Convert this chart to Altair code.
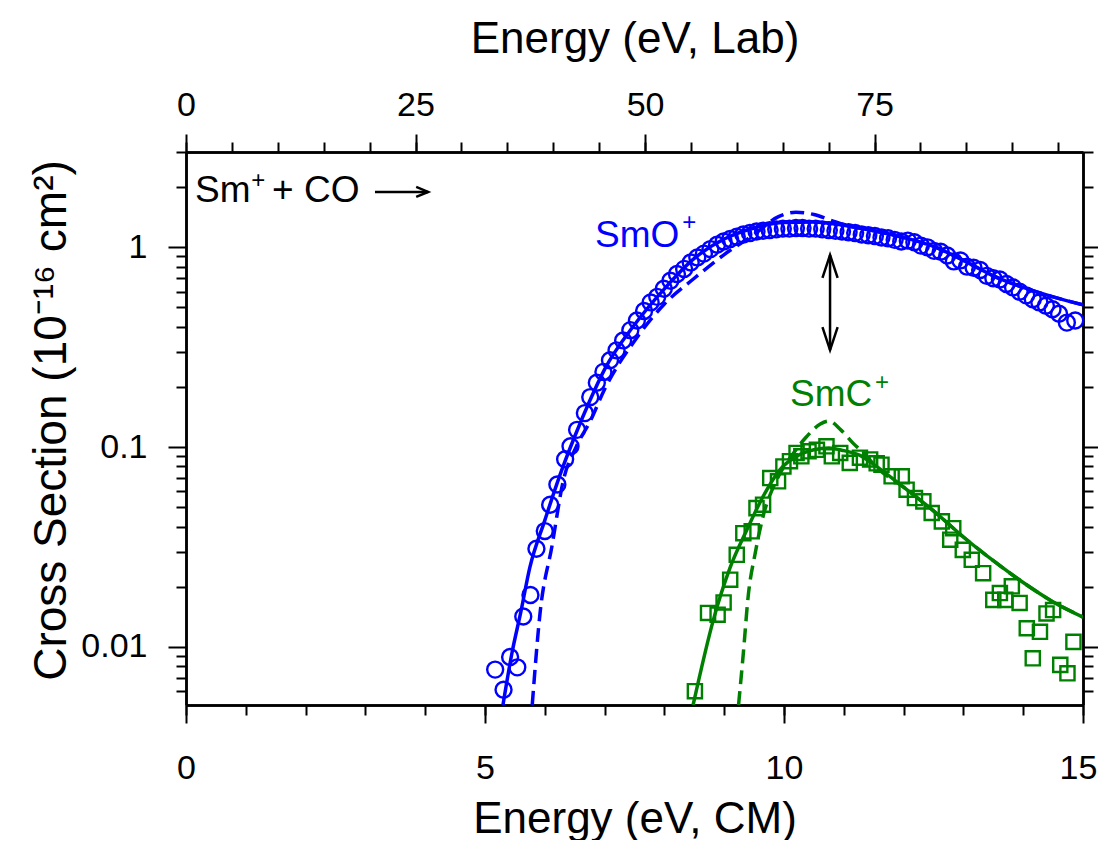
import altair as alt
import pandas as pd

FONT = "Liberation Sans"
BLUE = "#0000ff"
GREEN = "#008000"

# ---------------- data ----------------
smo_x = [5.17, 5.31, 5.42, 5.54, 5.64, 5.76, 5.86, 6.00, 6.09, 6.21, 6.34, 6.43, 6.54, 6.67,
         6.76, 6.87, 6.98, 7.09, 7.20, 7.31, 7.43, 7.54, 7.66, 7.77, 7.88, 7.99, 8.10, 8.21,
         8.33, 8.44, 8.55, 8.66, 8.77, 8.88, 8.99, 9.10, 9.21, 9.32, 9.43, 9.54, 9.65, 9.76,
         9.87, 9.98, 10.09, 10.20, 10.31, 10.42, 10.53, 10.64, 10.75, 10.86, 10.97, 11.08,
         11.19, 11.30, 11.41, 11.52, 11.63, 11.74, 11.85, 11.96, 12.07, 12.18, 12.29, 12.40,
         12.51, 12.62, 12.73, 12.84, 12.95, 13.06, 13.17, 13.28, 13.39, 13.50, 13.61, 13.72,
         13.83, 13.94, 14.05, 14.16, 14.27, 14.38, 14.49, 14.60, 14.73, 14.87]
smo_y = [0.0077, 0.0061, 0.0089, 0.0079, 0.0142, 0.0182, 0.031, 0.038, 0.0515, 0.065, 0.087,
         0.101, 0.122, 0.148, 0.178, 0.21, 0.238, 0.272, 0.305, 0.342, 0.385, 0.43, 0.48, 0.53,
         0.565, 0.62, 0.68, 0.735, 0.78, 0.84, 0.89, 0.93, 0.98, 1.03, 1.07, 1.10, 1.13, 1.16,
         1.18, 1.20, 1.21, 1.22, 1.23, 1.24, 1.24, 1.25, 1.25, 1.24, 1.24, 1.23, 1.22, 1.21,
         1.20, 1.19, 1.18, 1.16, 1.15, 1.14, 1.12, 1.11, 1.09, 1.07, 1.08, 1.06, 1.02, 1.00,
         0.96, 0.95, 0.91, 0.85, 0.86, 0.80, 0.79, 0.77, 0.72, 0.70, 0.69, 0.655, 0.63, 0.60,
         0.575, 0.55, 0.53, 0.51, 0.49, 0.465, 0.42, 0.43]

smo_fit_x = [5.30, 5.45, 5.60, 5.75, 6.00, 6.25, 6.50, 6.75, 7.00, 7.50, 8.00, 8.50, 9.00,
             9.50, 10.00, 10.50, 11.00, 11.50, 12.00, 12.50, 13.00, 13.50, 14.00, 14.50, 15.00]
smo_fit_y = [0.00512, 0.0093, 0.015, 0.025, 0.043, 0.072, 0.113, 0.17, 0.245, 0.41, 0.62,
             0.88, 1.10, 1.25, 1.33, 1.34, 1.29, 1.21, 1.12, 1.01, 0.86, 0.72, 0.63, 0.565, 0.515]

smo_dash_x = [5.79, 5.92, 6.12, 6.31, 6.53, 6.76, 7.00, 7.50, 8.00, 8.50, 9.00, 9.50, 9.90,
              10.20, 10.50, 10.80, 11.00, 11.50, 12.00, 12.50, 13.00, 13.50, 14.00, 14.50, 15.00]
smo_dash_y = [0.00512, 0.0147, 0.032, 0.068, 0.101, 0.135, 0.195, 0.34, 0.52, 0.70, 0.92, 1.16,
              1.42, 1.50, 1.46, 1.36, 1.30, 1.21, 1.12, 1.01, 0.86, 0.72, 0.63, 0.565, 0.515]

smc_x = [8.51, 8.73, 8.89, 8.99, 9.10, 9.21, 9.32, 9.46, 9.54, 9.65, 9.77, 9.90, 9.99, 10.10,
         10.21, 10.29, 10.41, 10.55, 10.71, 10.80, 10.94, 11.10, 11.27, 11.44, 11.55, 11.63,
         11.80, 11.97, 12.05, 12.19, 12.33, 12.47, 12.64, 12.78, 12.83, 12.99, 13.14, 13.33,
         13.50, 13.61, 13.70, 13.81, 13.94, 14.06, 14.16, 14.28, 14.39, 14.50, 14.62, 14.74, 14.84]
smc_y = [0.0060, 0.0148, 0.0145, 0.0167, 0.0217, 0.0289, 0.0371, 0.0379, 0.0495, 0.0515, 0.070,
         0.0674, 0.080, 0.085, 0.0935, 0.090, 0.0953, 0.097, 0.101, 0.090, 0.0935, 0.0834,
         0.0885, 0.0868, 0.083, 0.0817, 0.0714, 0.0714, 0.0612, 0.0556, 0.0535, 0.0468, 0.0425,
         0.0344, 0.0393, 0.0306, 0.0273, 0.0234, 0.0172, 0.0186, 0.0172, 0.0201, 0.0166, 0.0124,
         0.00877, 0.0119, 0.0147, 0.0153, 0.00813, 0.00738, 0.0106]

smc_fit_x = [8.48, 8.82, 9.10, 9.38, 9.65, 9.93, 10.21, 10.50, 10.75, 11.00, 11.27, 11.50,
             12.00, 12.50, 13.00, 13.50, 14.00, 14.50, 15.00]
smc_fit_y = [0.00512, 0.0137, 0.025, 0.0386, 0.0566, 0.077, 0.090, 0.097, 0.099, 0.096, 0.091,
             0.082, 0.063, 0.048, 0.0355, 0.027, 0.021, 0.0168, 0.0141]

smc_dash_x = [9.24, 9.32, 9.40, 9.52, 9.65, 9.88, 10.16, 10.38, 10.60, 10.75, 10.95, 11.15,
              11.40, 11.50, 12.00, 12.50, 13.00, 13.50, 14.00, 14.50, 15.00]
smc_dash_y = [0.00512, 0.0093, 0.0178, 0.0296, 0.045, 0.0687, 0.0935, 0.113, 0.130, 0.135,
              0.122, 0.105, 0.089, 0.082, 0.063, 0.048, 0.0355, 0.027, 0.021, 0.0168, 0.0141]

# axis ticks
cm_major = [0, 5, 10, 15]
cm_minor = list(range(0, 16))
lab_major = [0, 25, 50, 75]
lab_minor = list(range(0, 100, 5))
y_major = [0.01, 0.1, 1]
y_minor = [0.006, 0.007, 0.008, 0.009, 0.02, 0.03, 0.04, 0.05, 0.06, 0.07, 0.08, 0.09,
           0.2, 0.3, 0.4, 0.5, 0.6, 0.7, 0.8, 0.9, 2, 3]

# annotations
ann_text = ["Sm", "+ CO", "SmO", "SmC"]
ann_x = [0.15, 1.44, 6.84, 10.10]
ann_y = [1.687, 1.687, 1.005, 0.1607]
ann_col = ["black", "black", BLUE, GREEN]
sup_x = [1.09, 8.30, 11.52]
sup_y = [1.98, 1.22, 0.194]
sup_col = ["black", BLUE, GREEN]
arrow_x = [3.16, 10.77]
arrow_x2 = [4.05, 10.77]
arrow_y = [1.894, 0.916]
arrow_y2 = [1.894, 0.306]
head_x = [4.05, 10.77, 10.77]
head_y = [1.894, 0.916, 0.306]
head_shape = ["M-1,-0.42L0,0L-1,0.42", "M-0.33,1L0,0L0.33,1", "M-0.33,-1L0,0L0.33,-1"]
head_size = [576, 2116, 2116]

# ---------------- scales & axes ----------------
XSC = alt.Scale(domain=[0, 15], nice=False, zero=False)
LSC = alt.Scale(domain=[0, 97.7], nice=False, zero=False)
YSC = alt.Scale(type="log", domain=[0.00512, 3.0], nice=False)

common = dict(domainColor="black", domainWidth=2.5, tickColor="black", tickWidth=2,
              grid=False, labelFont=FONT, labelColor="black", titleFont=FONT,
              titleColor="black", titleFontWeight="normal")

ax_bottom_major = alt.Axis(orient="bottom", values=cm_major, tickSize=18, labelFontSize=34,
                           labelPadding=55, labelBaseline="alphabetic", format="d",
                           labelFlush=False, labelOverlap=False,
                           labelOffset=alt.ConditionalAxisNumber(
                               condition={"test": "datum.value == 15", "value": -5}, value=0),
                           title="Energy (eV, CM)", titleFontSize=44, titleY=127,
                           titleBaseline="alphabetic", **common)
ax_bottom_minor = alt.Axis(orient="bottom", values=cm_minor, tickSize=10, labels=False,
                           title="", **common)
ax_top_major = alt.Axis(orient="top", values=lab_major, tickSize=18, labelFontSize=34,
                        labelPadding=19, labelBaseline="alphabetic", format="d",
                        labelFlush=False, labelOverlap=False,
                        title="Energy (eV, Lab)", titleFontSize=44, titleY=-100,
                        titleBaseline="alphabetic", **common)
ax_top_minor = alt.Axis(orient="top", values=lab_minor, tickSize=10, labels=False,
                        title="", **common)
ax_left_major = alt.Axis(orient="left", values=y_major, tickSize=18, labelFontSize=34,
                         labelPadding=21, format="~g", labelOverlap=False,
                         title="Cross Section (10⁻¹⁶ cm²)", titleFontSize=46,
                         titleX=-121, titleY=268, titleAngle=270,
                         titleBaseline="alphabetic", **common)
ax_left_minor = alt.Axis(orient="left", values=y_minor, tickSize=10, labels=False,
                         title="", **common)
ax_right_major = alt.Axis(orient="right", values=y_major, tickSize=18, labels=False,
                          title="", **common)
ax_right_minor = alt.Axis(orient="right", values=y_minor, tickSize=10, labels=False,
                          title="", **common)


def xy(xaxis=None, yaxis=None, xf="x:Q", xs=XSC):
    return dict(x=alt.X(xf, scale=xs, axis=xaxis), y=alt.Y("y:Q", scale=YSC, axis=yaxis))


def df(xs, ys):
    return pd.DataFrame({"x": xs, "y": ys})


smo_pts = alt.Chart(df(smo_x, smo_y)).mark_point(
    shape="circle", filled=False, size=255, strokeWidth=2.4, color=BLUE, opacity=1
).encode(**xy(ax_bottom_major, ax_left_major))

smc_pts = alt.Chart(df(smc_x, smc_y)).mark_point(
    shape="square", filled=False, size=200, strokeWidth=2.4, color=GREEN, opacity=1
).encode(**xy(ax_bottom_minor, ax_left_minor))

smo_fit = alt.Chart(df(smo_fit_x, smo_fit_y)).mark_line(
    color=BLUE, strokeWidth=3.5, clip=True, interpolate="monotone").encode(**xy())
smo_dash = alt.Chart(df(smo_dash_x, smo_dash_y)).mark_line(
    color=BLUE, strokeWidth=3.5, strokeDash=[14, 7], clip=True, interpolate="monotone").encode(**xy())
smc_fit = alt.Chart(df(smc_fit_x, smc_fit_y)).mark_line(
    color=GREEN, strokeWidth=3.5, clip=True, interpolate="monotone").encode(**xy())
smc_dash = alt.Chart(df(smc_dash_x, smc_dash_y)).mark_line(
    color=GREEN, strokeWidth=3.5, strokeDash=[14, 7], clip=True, interpolate="monotone").encode(**xy())

top_major = alt.Chart(pd.DataFrame({"lab": lab_major, "y": [1] * len(lab_major)})).mark_point(
    opacity=0).encode(**xy(ax_top_major, ax_right_major, xf="lab:Q", xs=LSC))
top_minor = alt.Chart(pd.DataFrame({"lab": lab_minor, "y": [1] * len(lab_minor)})).mark_point(
    opacity=0).encode(**xy(ax_top_minor, ax_right_minor, xf="lab:Q", xs=LSC))

texts = alt.Chart(pd.DataFrame({"x": ann_x, "y": ann_y, "t": ann_text, "c": ann_col})).mark_text(
    align="left", baseline="alphabetic", font=FONT, fontSize=37
).encode(text="t:N", color=alt.Color("c:N", scale=None), **xy())

sups = alt.Chart(pd.DataFrame({"x": sup_x, "y": sup_y, "t": ["+"] * 3, "c": sup_col})).mark_text(
    align="left", baseline="alphabetic", font=FONT, fontSize=24
).encode(text="t:N", color=alt.Color("c:N", scale=None), **xy())

arrows = alt.Chart(pd.DataFrame({"x": arrow_x, "x2": arrow_x2, "y": arrow_y, "y2": arrow_y2})).mark_rule(
    color="black", strokeWidth=2.5
).encode(x=alt.X("x:Q", scale=XSC, axis=None), x2="x2:Q",
         y=alt.Y("y:Q", scale=YSC, axis=None), y2="y2:Q")

heads = alt.Chart(pd.DataFrame({"x": head_x, "y": head_y, "s": head_shape, "z": head_size})).mark_point(
    filled=False, color="black", strokeWidth=2.5, opacity=1
).encode(shape=alt.Shape("s:N", scale=None), size=alt.Size("z:Q", scale=None), **xy())

chart = alt.layer(
    top_major, top_minor, smo_pts, smc_pts, smo_dash, smc_dash, smo_fit, smc_fit,
    arrows, heads, texts, sups
).resolve_scale(x="independent", y="independent").properties(
    width=897, height=553,
    padding={"left": 178, "top": 144, "right": 15, "bottom": 135},
    autosize=alt.AutoSizeParams(type="none"),
    background="white",
).configure_view(strokeWidth=0)

chart.save("out.html", embed_options={"renderer": "svg", "actions": False})
